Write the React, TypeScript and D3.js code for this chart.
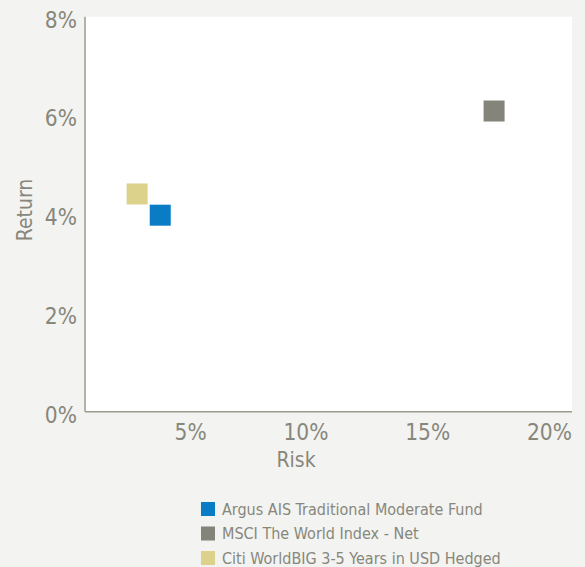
import React from "react";
import * as d3 from "d3";

// risk/return values (in %)
const funds = ["Argus AIS Traditional Moderate Fund", "MSCI The World Index - Net", "Citi WorldBIG 3-5 Years in USD Hedged"];
const risk = [3.09, 16.8, 2.14];
const ret = [3.98, 6.09, 4.41];
const colors = ["#0a7cc5", "#84847a", "#dcd28c"];
const xTicks = [5, 10, 15, 20];
const yTicks = [0, 2, 4, 6, 8];

const W = 585;
const H = 567;
const FONT = "'Liberation Sans Narrow', 'DejaVu Sans Condensed', 'Open Sans', sans-serif";
const TXT = "#87877b";

const App = () => {
  const x = d3.scaleLinear().domain([0, 20]).range([85, 572]);
  const y = d3.scaleLinear().domain([0, 8]).range([411.7, 16.7]);
  const sq = 21;

  return (
    <svg width={W} height={H} style={{ position: "absolute", left: 0, top: 0 }} fontFamily={FONT}>
      <rect width={W} height={H} fill="#f3f3f1" />
      <rect x={x(0)} y={y(8)} width={x(20) - x(0)} height={y(0) - y(8)} fill="#fff" />
      <line x1={x(0)} x2={x(0)} y1={y(8)} y2={y(0)} stroke="#9b9b8f" strokeWidth={1.5} />
      <line x1={x(0)} x2={x(20)} y1={y(0)} y2={y(0)} stroke="#9b9b8f" strokeWidth={1.5} />

      {yTicks.map((t) => (
        <text key={t} x={77} y={y(t) + 3} dy="0.35em" textAnchor="end" fontSize={22.5} fill={TXT}>
          {t}%
        </text>
      ))}
      {xTicks.map((t) => (
        <text key={t} x={x(t)} y={440} textAnchor="end" fontSize={22.5} fill={TXT}>
          {t}%
        </text>
      ))}
      <text x={296} y={467} textAnchor="middle" fontSize={21} fill={TXT}>
        Risk
      </text>
      <text transform={`translate(32,${210}) rotate(-90)`} textAnchor="middle" fontSize={21} fill={TXT}>
        Return
      </text>

      {funds.map((f, i) => (
        <rect key={f} x={x(risk[i]) - sq / 2} y={y(ret[i]) - sq / 2} width={sq} height={sq} fill={colors[i]} />
      ))}

      {funds.map((f, i) => (
        <g key={f} transform={`translate(201,${509 + i * 24.5})`}>
          <rect x={0} y={-7} width={14} height={14} fill={colors[i]} />
          <text x={21} y={0} dy="0.35em" fontSize={16} fill={TXT}>
            {f}
          </text>
        </g>
      ))}
    </svg>
  );
};

export default App;
